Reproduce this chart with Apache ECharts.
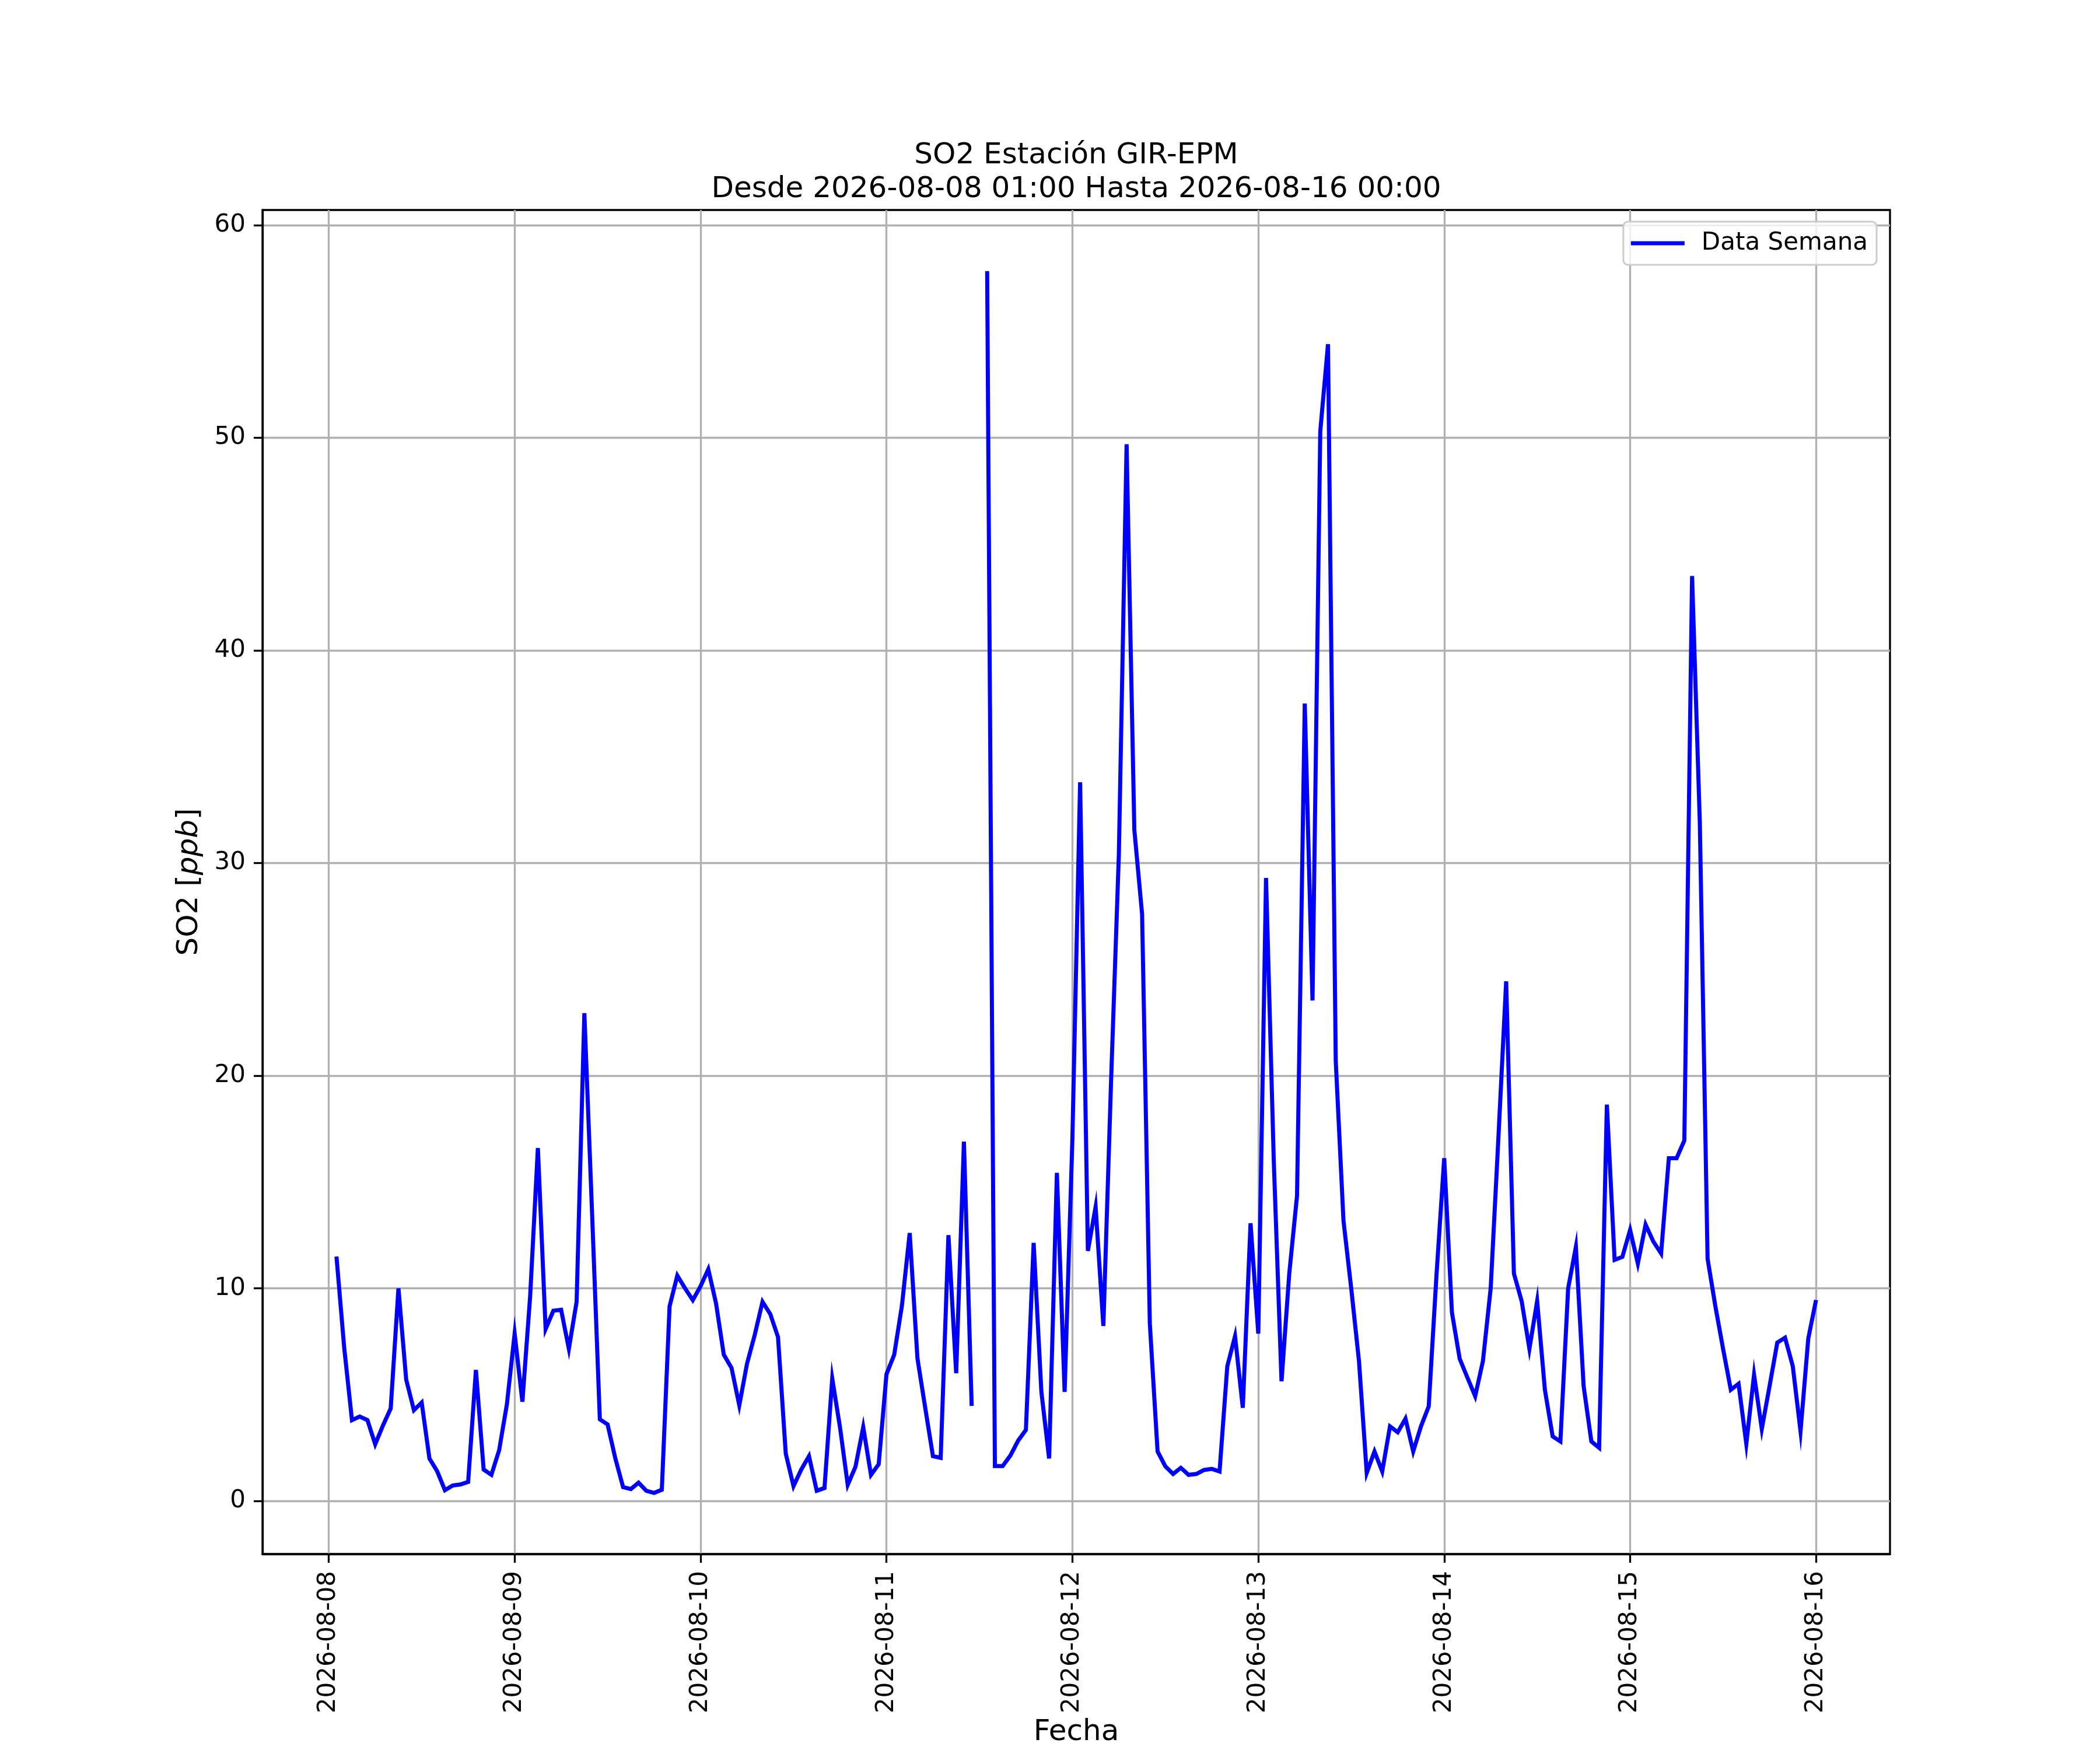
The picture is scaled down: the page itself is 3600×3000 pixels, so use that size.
<!DOCTYPE html>
<html>
<head>
<meta charset="utf-8">
<script src="https://cdn.jsdelivr.net/npm/echarts@6/dist/echarts.min.js"></script>
<style>
  html, body { margin: 0; padding: 0; background: #fff; }
  #chart { width: 3600px; height: 3000px; }
</style>
</head>
<body>
<div id="chart"></div>
<script>
// horas desde 2026-08-08 00:00 (primer dato a las 01:00)
var firstHour = 1
var lastHour = 192
// SO2 [ppb] horario, null = sin dato
var so2Values = [
  11.5, 7.2, 3.8, 3.97, 3.8, 2.67, 3.55, 4.35, 10.0, 5.71, 4.27, 4.63,
  2.0, 1.4, 0.51, 0.73, 0.78, 0.9, 6.16, 1.48, 1.23, 2.39, 4.55, 7.87,
  4.67, 9.62, 16.6, 8.09, 8.95, 8.99, 7.16, 9.37, 22.94, 13.5, 3.84, 3.6,
  2.0, 0.65, 0.56, 0.86, 0.48, 0.38, 0.53, 9.15, 10.6, 10.0, 9.45, 10.1,
  10.9, 9.29, 6.88, 6.26, 4.5, 6.46, 7.82, 9.37, 8.79, 7.71, 2.23, 0.7,
  1.48, 2.11, 0.48, 0.61, 5.76, 3.47, 0.76, 1.61, 3.47, 1.23, 1.73, 5.96,
  6.88, 9.2, 12.6, 6.71, 4.39, 2.11, 2.03, 12.5, 6.01, 16.9, 4.47, null,
  57.84, 1.64, 1.64, 2.14, 2.84, 3.34, 12.14, 5.13, 2.0, 15.43, 5.13, 17.0,
  33.8, 11.76, 13.83, 8.23, 19.8, 30.4, 49.7, 31.56, 27.6, 8.34, 2.33, 1.63,
  1.27, 1.56, 1.23, 1.27, 1.46, 1.51, 1.39, 6.34, 7.75, 4.38, 13.06, 7.87,
  29.3, 16.0, 5.63, 10.7, 14.35, 37.5, 23.54, 50.3, 54.4, 20.7, 13.17, 9.99,
  6.58, 1.32, 2.33, 1.39, 3.51, 3.23, 3.87, 2.33, 3.51, 4.45, 10.6, 16.12,
  8.86, 6.69, 5.8, 4.93, 6.58, 10.0, 17.1, 24.44, 10.7, 9.4, 7.16, 9.4,
  5.23, 3.04, 2.8, 10.0, 11.95, 5.4, 2.8, 2.5, 18.64, 11.34, 11.48, 12.75,
  11.17, 13.0, 12.2, 11.64, 16.12, 16.12, 16.95, 43.5, 31.9, 11.4, 9.17, 7.16,
  5.23, 5.51, 2.69, 5.94, 3.39, 5.4, 7.45, 7.68, 6.34, 3.28, 7.64, 9.45
]
// ticks del eje x (hora de cada medianoche) y sus etiquetas
var dayTicks = [0, 24, 48, 72, 96, 120, 144, 168, 192]
var dayLabels = ['2026-08-08', '2026-08-09', '2026-08-10', '2026-08-11', '2026-08-12',
  '2026-08-13', '2026-08-14', '2026-08-15', '2026-08-16']
var yTicks = [0, 10, 20, 30, 40, 50, 60]

var seriesData = []
so2Values.forEach(function (v, i) {
  seriesData.push([firstHour + i, v])
})

// margenes estilo matplotlib (5%)
var xPad = (lastHour - firstHour) * 0.05
var yMin = 0.38, yMax = 57.84
var yPad = (yMax - yMin) * 0.05

var chart = echarts.init(document.getElementById('chart'), null, { renderer: 'canvas' })
var font = 'DejaVu Sans'

var option = {
  animation: false,
  backgroundColor: '#ffffff',
  title: {
    text: 'SO2 Estación GIR-EPM\nDesde 2026-08-08 01:00 Hasta 2026-08-16 00:00',
    left: 1840,
    textAlign: 'center',
    top: 233,
    textStyle: {
      fontFamily: font,
      fontSize: 50,
      fontWeight: 'normal',
      color: '#000',
      lineHeight: 58
    }
  },
  legend: {
    data: [{ name: 'Data Semana', icon: 'rect' }],
    right: 383,
    top: 380,
    orient: 'vertical',
    padding: [16, 15, 16, 13],
    backgroundColor: 'rgba(255,255,255,0.8)',
    borderColor: '#cccccc',
    borderWidth: 3,
    borderRadius: 8,
    itemWidth: 92,
    itemHeight: 7,
    itemStyle: { color: '#0000ff' },
    textStyle: {
      fontFamily: font,
      fontSize: 42,
      color: '#000',
      padding: [0, 0, 0, 24]
    }
  },
  grid: {
    left: 450,
    right: 360,
    top: 360,
    bottom: 330,
    show: true,
    borderColor: '#000',
    borderWidth: 3.3,
    backgroundColor: 'transparent'
  },
  xAxis: {
    type: 'value',
    min: firstHour - xPad,
    max: lastHour + xPad,
    name: 'Fecha',
    nameLocation: 'middle',
    nameGap: 272,
    nameTextStyle: { fontFamily: font, fontSize: 50, color: '#000' },
    axisLine: { show: true, onZero: false, lineStyle: { color: '#000', width: 3.3 } },
    axisTick: {
      show: true,
      customValues: dayTicks,
      length: 15,
      lineStyle: { color: '#000', width: 3.3 }
    },
    axisLabel: {
      customValues: dayTicks,
      rotate: 90,
      margin: 29,
      fontFamily: font,
      fontSize: 42,
      color: '#000',
      formatter: function (val) {
        var k = dayTicks.indexOf(Math.round(val))
        return k >= 0 ? dayLabels[k] : ''
      }
    },
    splitLine: { show: true, lineStyle: { color: '#b0b0b0', width: 3.3 } }
  },
  yAxis: {
    type: 'value',
    min: yMin - yPad,
    max: yMax + yPad,
    name: 'SO2 [{i|ppb}]',
    nameLocation: 'middle',
    nameGap: 100,
    nameRotate: 90,
    nameTextStyle: {
      fontFamily: font,
      fontSize: 50,
      color: '#000',
      rich: { i: { fontFamily: font, fontSize: 50, fontStyle: 'italic', color: '#000' } }
    },
    axisLine: { show: true, onZero: false, lineStyle: { color: '#000', width: 3.3 } },
    axisTick: {
      show: true,
      customValues: yTicks,
      length: 15,
      lineStyle: { color: '#000', width: 3.3 }
    },
    axisLabel: {
      customValues: yTicks,
      margin: 29,
      fontFamily: font,
      fontSize: 42,
      color: '#000'
    },
    splitLine: { show: true, lineStyle: { color: '#b0b0b0', width: 3.3 } }
  },
  series: [{
    name: 'Data Semana',
    type: 'line',
    data: seriesData,
    symbol: 'none',
    connectNulls: false,
    lineStyle: { color: '#0000ff', width: 7, join: 'miter' },
    itemStyle: { color: '#0000ff' }
  }]
}

chart.setOption(option)
</script>
</body>
</html>
